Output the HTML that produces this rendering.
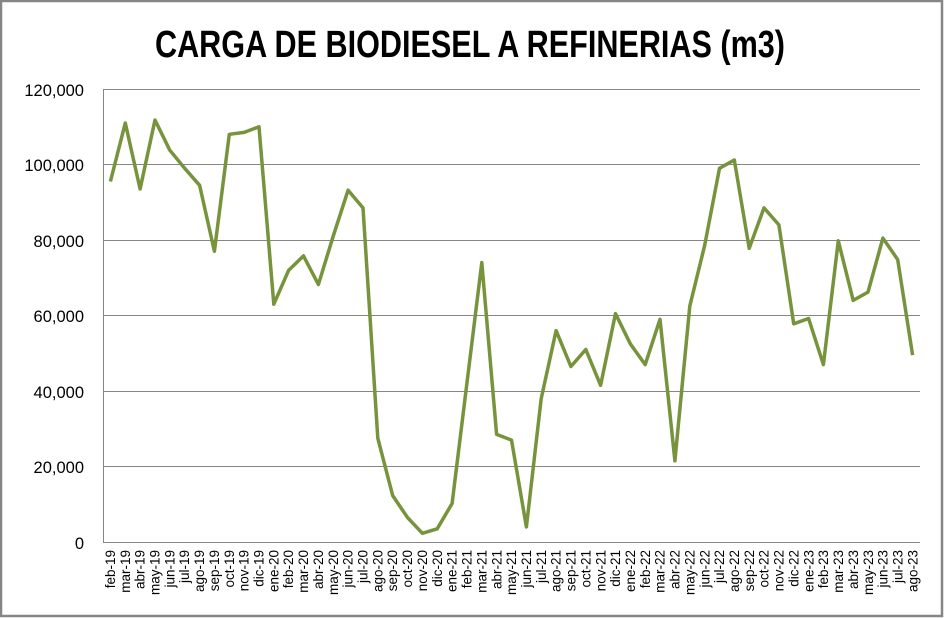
<!DOCTYPE html>
<html><head><meta charset="utf-8"><style>
html,body{margin:0;padding:0;background:#fff;}
svg{display:block;}
</style></head><body>
<svg width="944" height="618" xmlns="http://www.w3.org/2000/svg" font-family="'Liberation Sans', sans-serif">
<rect x="1" y="1" width="941" height="615" fill="#fff" stroke="#868686" stroke-width="2.5"/>
<text x="470" y="57" text-anchor="middle" font-size="38" font-weight="bold" textLength="630" lengthAdjust="spacingAndGlyphs">CARGA DE BIODIESEL A REFINERIAS (m3)</text>
<g stroke="#868686" stroke-width="1">
<line x1="103" y1="89.5" x2="920" y2="89.5"/>
<line x1="103" y1="164.5" x2="920" y2="164.5"/>
<line x1="103" y1="240.5" x2="920" y2="240.5"/>
<line x1="103" y1="315.5" x2="920" y2="315.5"/>
<line x1="103" y1="391.5" x2="920" y2="391.5"/>
<line x1="103" y1="466.5" x2="920" y2="466.5"/>
<line x1="103" y1="542.5" x2="920" y2="542.5"/>
<line x1="103.5" y1="89" x2="103.5" y2="542"/>
</g>
<g font-size="16.5" text-anchor="end" fill="#000">
<text x="84" y="96">120,000</text>
<text x="84" y="171">100,000</text>
<text x="84" y="247">80,000</text>
<text x="84" y="322">60,000</text>
<text x="84" y="398">40,000</text>
<text x="84" y="473">20,000</text>
<text x="84" y="549">0</text>
</g>
<g font-size="13.5" text-anchor="end" fill="#000">
<text transform="translate(114.9,550) rotate(-90)">feb-19</text>
<text transform="translate(129.8,550) rotate(-90)">mar-19</text>
<text transform="translate(144.6,550) rotate(-90)">abr-19</text>
<text transform="translate(159.5,550) rotate(-90)">may-19</text>
<text transform="translate(174.3,550) rotate(-90)">jun-19</text>
<text transform="translate(189.2,550) rotate(-90)">jul-19</text>
<text transform="translate(204.1,550) rotate(-90)">ago-19</text>
<text transform="translate(218.9,550) rotate(-90)">sep-19</text>
<text transform="translate(233.8,550) rotate(-90)">oct-19</text>
<text transform="translate(248.6,550) rotate(-90)">nov-19</text>
<text transform="translate(263.5,550) rotate(-90)">dic-19</text>
<text transform="translate(278.4,550) rotate(-90)">ene-20</text>
<text transform="translate(293.2,550) rotate(-90)">feb-20</text>
<text transform="translate(308.1,550) rotate(-90)">mar-20</text>
<text transform="translate(322.9,550) rotate(-90)">abr-20</text>
<text transform="translate(337.8,550) rotate(-90)">may-20</text>
<text transform="translate(352.7,550) rotate(-90)">jun-20</text>
<text transform="translate(367.5,550) rotate(-90)">jul-20</text>
<text transform="translate(382.4,550) rotate(-90)">ago-20</text>
<text transform="translate(397.2,550) rotate(-90)">sep-20</text>
<text transform="translate(412.1,550) rotate(-90)">oct-20</text>
<text transform="translate(427.0,550) rotate(-90)">nov-20</text>
<text transform="translate(441.8,550) rotate(-90)">dic-20</text>
<text transform="translate(456.7,550) rotate(-90)">ene-21</text>
<text transform="translate(471.5,550) rotate(-90)">feb-21</text>
<text transform="translate(486.4,550) rotate(-90)">mar-21</text>
<text transform="translate(501.3,550) rotate(-90)">abr-21</text>
<text transform="translate(516.1,550) rotate(-90)">may-21</text>
<text transform="translate(531.0,550) rotate(-90)">jun-21</text>
<text transform="translate(545.8,550) rotate(-90)">jul-21</text>
<text transform="translate(560.7,550) rotate(-90)">ago-21</text>
<text transform="translate(575.6,550) rotate(-90)">sep-21</text>
<text transform="translate(590.4,550) rotate(-90)">oct-21</text>
<text transform="translate(605.3,550) rotate(-90)">nov-21</text>
<text transform="translate(620.1,550) rotate(-90)">dic-21</text>
<text transform="translate(635.0,550) rotate(-90)">ene-22</text>
<text transform="translate(649.9,550) rotate(-90)">feb-22</text>
<text transform="translate(664.7,550) rotate(-90)">mar-22</text>
<text transform="translate(679.6,550) rotate(-90)">abr-22</text>
<text transform="translate(694.4,550) rotate(-90)">may-22</text>
<text transform="translate(709.3,550) rotate(-90)">jun-22</text>
<text transform="translate(724.2,550) rotate(-90)">jul-22</text>
<text transform="translate(739.0,550) rotate(-90)">ago-22</text>
<text transform="translate(753.9,550) rotate(-90)">sep-22</text>
<text transform="translate(768.7,550) rotate(-90)">oct-22</text>
<text transform="translate(783.6,550) rotate(-90)">nov-22</text>
<text transform="translate(798.5,550) rotate(-90)">dic-22</text>
<text transform="translate(813.3,550) rotate(-90)">ene-23</text>
<text transform="translate(828.2,550) rotate(-90)">feb-23</text>
<text transform="translate(843.0,550) rotate(-90)">mar-23</text>
<text transform="translate(857.9,550) rotate(-90)">abr-23</text>
<text transform="translate(872.8,550) rotate(-90)">may-23</text>
<text transform="translate(887.6,550) rotate(-90)">jun-23</text>
<text transform="translate(902.5,550) rotate(-90)">jul-23</text>
<text transform="translate(917.3,550) rotate(-90)">ago-23</text>
</g>
<polyline id="ln" fill="none" stroke="#77933C" stroke-width="3.5" stroke-linejoin="round"/>
<script>
var d=[95500,111000,93500,111800,103800,99000,94500,77000,108000,108500,110000,63000,72000,75800,68200,81000,93200,88500,27500,12300,6500,2300,3500,10200,42000,74000,28500,27000,4000,38000,56000,46500,51000,41500,60500,52500,47000,59000,21500,62500,78500,99000,101200,77800,88500,84000,57800,59200,47000,79800,64000,66200,80500,74800,49500];
var s=817/55,pts=[];
for(var i=0;i<55;i++){var x=103+s*(i+0.5);pts.push(x.toFixed(1)+","+(542-d[i]*453/120000).toFixed(1));}
document.getElementById('ln').setAttribute('points',pts.join(' '));
</script>
</svg>
</body></html>
